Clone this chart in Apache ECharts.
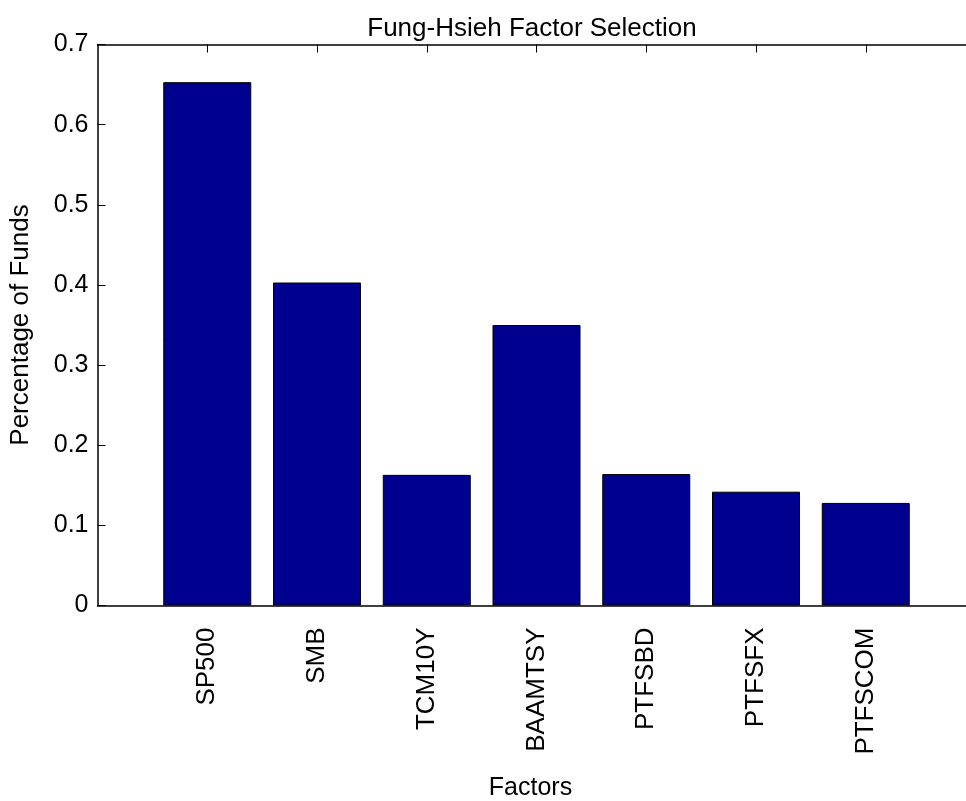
<!DOCTYPE html>
<html>
<head>
<meta charset="utf-8">
<script src="https://cdn.jsdelivr.net/npm/echarts@6/dist/echarts.min.js"></script>
<style>
  html, body { margin: 0; padding: 0; background: #fff; }
  #chart { width: 966px; height: 801px; }
</style>
</head>
<body>
<div id="chart"></div>
<script>
// factor names and share of funds that selected each one
const factors = ['SP500', 'SMB', 'TCM10Y', 'BAAMTSY', 'PTFSBD', 'PTFSFX', 'PTFSCOM'];
const shares = [0.653, 0.403, 0.163, 0.350, 0.164, 0.142, 0.128];
const yTicks = [0, 0.1, 0.2, 0.3, 0.4, 0.5, 0.6, 0.7];

const positions = factors.map((f, i) => i + 1);
const font = 'Liberation Sans, Arial, sans-serif';

const chart = echarts.init(document.getElementById('chart'));
chart.setOption({
  animation: false,
  title: {
    text: 'Fung-Hsieh Factor Selection',
    left: 527,
    top: 11,
    textAlign: 'center',
    textStyle: { fontFamily: font, fontSize: 26, fontWeight: 'normal', color: '#000' }
  },
  grid: { left: 97.5, top: 44.5, bottom: 195.5, right: -9.5, containLabel: false, outerBoundsMode: 'none' },
  xAxis: [
    {
      type: 'value',
      min: 0,
      max: 8,
      interval: 1,
      name: 'Factors',
      nameLocation: 'middle',
      nameGap: 170,
      nameTextStyle: { fontFamily: font, fontSize: 25, color: '#000', padding: [0, 12, 0, 0] },
      axisLine: { lineStyle: { color: '#000', width: 1.5 } },
      axisTick: { show: true, inside: true, length: 8, customValues: positions, lineStyle: { color: '#000' } },
      axisLabel: {
        customValues: positions,
        rotate: 90,
        margin: 22,
        fontFamily: font,
        fontSize: 26,
        color: '#000',
        formatter: v => factors[v - 1] || ''
      },
      splitLine: { show: false }
    },
    {
      type: 'value',
      position: 'top',
      min: 0,
      max: 8,
      interval: 1,
      axisLine: { show: true, onZero: false, lineStyle: { color: '#000', width: 1.5 } },
      axisTick: { show: true, inside: true, length: 8, customValues: positions, lineStyle: { color: '#000' } },
      axisLabel: { show: false },
      splitLine: { show: false }
    }
  ],
  yAxis: {
    type: 'value',
    min: 0,
    max: 0.7,
    interval: 0.1,
    name: 'Percentage of Funds',
    nameLocation: 'middle',
    nameGap: 64,
    nameTextStyle: { fontFamily: font, fontSize: 26, color: '#000' },
    axisLine: { show: true, lineStyle: { color: '#000', width: 1.5 } },
    axisTick: { show: true, inside: true, length: 8, lineStyle: { color: '#000' } },
    axisLabel: {
      fontFamily: font,
      fontSize: 25,
      color: '#000',
      margin: 9,
      formatter: v => (yTicks.includes(+v.toFixed(1)) ? String(+v.toFixed(1)) : '')
    },
    splitLine: { show: false }
  },
  series: [
    {
      type: 'bar',
      data: positions.map((p, i) => [p, shares[i]]),
      barWidth: 88,
      itemStyle: { color: '#00008f', borderColor: '#000', borderWidth: 1 }
    }
  ]
});
</script>
</body>
</html>
